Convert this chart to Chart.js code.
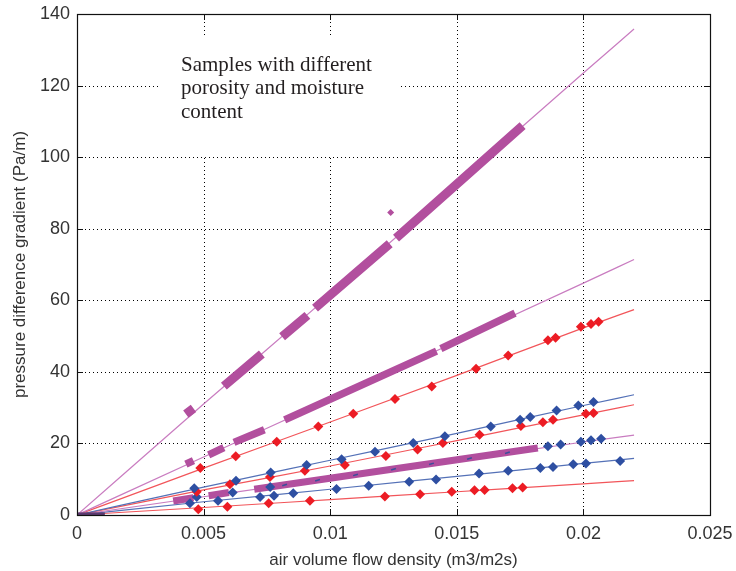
<!DOCTYPE html>
<html><head><meta charset="utf-8">
<script src="https://cdn.jsdelivr.net/npm/chart.js@4/dist/chart.umd.min.js"></script>
<style>html,body{margin:0;padding:0;background:#fff;}#wrap{width:736px;height:571px;position:relative;}</style>
</head><body><div id="wrap"><canvas id="c" width="736" height="571"></canvas></div>
<script>
// ---- axes ----
const xTicks = [0, 0.005, 0.01, 0.015, 0.02, 0.025];
const xTickLabels = ['0', '0.005', '0.01', '0.015', '0.02', '0.025'];
const yTicks = [0, 20, 40, 60, 80, 100, 120, 140];
const yTickLabels = ['0', '20', '40', '60', '80', '100', '120', '140'];
const xTitle = 'air volume flow density (m3/m2s)';
const yTitle = 'pressure difference gradient (Pa/m)';
const noteLines = ['Samples with different', 'porosity and moisture', 'content'];

// ---- fitted curves (read at these x positions) ----
const fitX = [0, 0.005, 0.01, 0.015, 0.02, 0.022];
const fitM1 = [0, 31, 61.5, 92.5, 123.5, 135.8];
const fitM2 = [0, 16.2, 32.3, 48.5, 64.8, 71.4];
const fitR2 = [0, 13.1, 26, 39, 52.3, 57.4];
const fitB1 = [0, 7.8, 15.3, 22.8, 30.6, 33.6];
const fitR3 = [0, 7.0, 13.7, 20.8, 28.0, 30.8];
const fitM3 = [0, 5.1, 10.2, 15.3, 20.4, 22.3];
const fitB2 = [0, 3.7, 7.2, 10.8, 14.4, 15.8];
const fitR4 = [0, 2.1, 4.3, 6.5, 8.7, 9.6];

// ---- dense measurement bands (segments: x0, y0, x1, y1) ----
const bandM1 = [[0.0043, 28.2, 0.0046, 29.8], [0.0058, 36.0, 0.0073, 45.0], [0.0081, 49.8, 0.0091, 55.8],
                [0.0094, 57.8, 0.01235, 75.8], [0.0126, 77.4, 0.0176, 108.8]];
const outlierM1X = [0.01239];
const outlierM1Y = [84.5];
const bandM2 = [[0.0043, 14.2, 0.0046, 15.2], [0.0052, 16.8, 0.0058, 18.8], [0.0062, 20.3, 0.0074, 23.8],
                [0.0082, 26.6, 0.0142, 45.8], [0.01437, 46.5, 0.0173, 56.4]];
const bandM3 = [[0.0038, 3.9, 0.0046, 4.8], [0.0052, 5.4, 0.006, 6.3], [0.007, 7.2, 0.0182, 18.7]];
const baseSeg = [[0, 0.3, 0.0011, 0.3]];

// ---- discrete measurements ----
const r2X = [0.00487, 0.00627, 0.00789, 0.00953, 0.01091, 0.01256, 0.01401, 0.01576, 0.01703, 0.0186, 0.0189, 0.0199, 0.0203, 0.0206];
const r2Y = [13.1, 16.4, 20.5, 24.7, 28.3, 32.4, 35.9, 40.9, 44.6, 48.8, 49.5, 52.6, 53.4, 54.0];
const b1X = [0.00463, 0.00628, 0.00765, 0.00907, 0.01045, 0.01177, 0.01328, 0.01453, 0.01634, 0.0175, 0.0179, 0.01894, 0.0198, 0.0204];
const b1Y = [7.5, 9.6, 11.9, 14.0, 15.6, 17.7, 20.1, 22.0, 24.7, 26.6, 27.4, 29.2, 30.6, 31.6];
const r3X = [0.00473, 0.00604, 0.00762, 0.009, 0.01058, 0.0122, 0.01345, 0.01445, 0.0159, 0.01753, 0.0184, 0.0188, 0.0201, 0.0204];
const r3Y = [6.5, 8.6, 10.6, 12.4, 14.0, 16.5, 18.3, 20.1, 22.4, 24.9, 25.9, 26.6, 28.3, 28.5];
const b2X = [0.00446, 0.00557, 0.00723, 0.00778, 0.00854, 0.01025, 0.01152, 0.01312, 0.01418, 0.01588, 0.01703, 0.0183, 0.0188, 0.0196, 0.0201, 0.02145];
const b2Y = [3.3, 4.0, 5.0, 5.4, 6.1, 7.3, 8.2, 9.3, 9.9, 11.6, 12.4, 13.1, 13.4, 14.2, 14.4, 15.1];
const r4X = [0.00479, 0.00594, 0.00757, 0.0092, 0.01216, 0.01355, 0.0148, 0.0157, 0.0161, 0.0172, 0.0176];
const r4Y = [1.6, 2.3, 3.3, 4.0, 5.2, 5.8, 6.5, 6.9, 7.0, 7.5, 7.7];
const b3X = [0.00473, 0.00615, 0.00763, 0.0186, 0.0191, 0.0199, 0.0203, 0.0207];
const b3Y = [5.0, 6.3, 7.8, 19.2, 19.7, 20.5, 20.9, 21.3];
// blue dashes visible on top of the lower magenta band
const b3dX = [0.0082, 0.0095, 0.011, 0.0125, 0.014, 0.0155, 0.017];
const b3dY = [8.4, 9.7, 11.2, 12.8, 14.3, 15.8, 17.4];

// ---- colours ----
const MAG = '#B24F9E', MAG_L = '#C97CC0';
const RED = '#EC1C24', RED_L = '#F2555A';
const BLU = '#2E4FA2', BLU_L = '#5471B7';

const pts = (xs, ys) => xs.map((x, i) => ({x: x, y: ys[i]}));
const segs = (arr) => {
  const out = [];
  arr.forEach((s, i) => {
    if (i > 0) out.push({x: s[0], y: null});
    out.push({x: s[0], y: s[1]});
    out.push({x: s[2], y: s[3]});
  });
  return out;
};
const markerDS = (xs, ys, col, r) => ({
  data: pts(xs, ys), showLine: false, pointStyle: 'rectRot', pointRadius: r || 5,
  backgroundColor: col, borderColor: col, borderWidth: 0, order: 0
});
const fitDS = (ys, col) => ({
  data: pts(fitX, ys), showLine: true, pointRadius: 0, borderColor: col, borderWidth: 1.2,
  tension: 0.3, cubicInterpolationMode: 'monotone', fill: false, order: 3
});
const bandDS = (arr, col, w) => ({
  data: segs(arr), showLine: true, spanGaps: false, pointRadius: 0, borderColor: col,
  borderWidth: w, borderCapStyle: 'butt', fill: false, order: 1
});

const datasets = [
  markerDS(outlierM1X, outlierM1Y, MAG, 3.5),
  markerDS(r2X, r2Y, RED),
  markerDS(b1X, b1Y, BLU),
  markerDS(r3X, r3Y, RED),
  markerDS(b2X, b2Y, BLU),
  markerDS(r4X, r4Y, RED),
  markerDS(b3X, b3Y, BLU),
  {data: pts(b3dX, b3dY), showLine: false, pointStyle: 'line', pointRadius: 2.5, pointRotation: -17,
   borderColor: '#3a4f9a', borderWidth: 1.5, order: 0},
  bandDS(bandM1, MAG, 9),
  bandDS(bandM2, MAG, 7.5),
  bandDS(bandM3, MAG, 7),
  bandDS(baseSeg, '#5b3a70', 3),
  fitDS(fitM1, MAG_L),
  fitDS(fitM2, MAG_L),
  fitDS(fitR2, RED_L),
  fitDS(fitB1, BLU_L),
  fitDS(fitR3, RED_L),
  fitDS(fitM3, MAG_L),
  fitDS(fitB2, BLU_L),
  fitDS(fitR4, RED_L)
];

const noteBox = {
  id: 'noteBox',
  beforeDatasetsDraw(chart) {
    const ctx = chart.ctx;
    const a = chart.chartArea;
    const xs = chart.scales.x, ys = chart.scales.y;
    ctx.save();
    // dotted grid
    ctx.strokeStyle = '#000';
    ctx.lineWidth = 1;
    ctx.setLineDash([1, 3]);
    ctx.beginPath();
    xTicks.slice(1, -1).forEach(v => {
      const p = Math.round(xs.getPixelForValue(v)) + 0.5;
      ctx.moveTo(p, a.top); ctx.lineTo(p, a.bottom);
    });
    yTicks.slice(1, -1).forEach(v => {
      const p = Math.round(ys.getPixelForValue(v)) + 0.5;
      ctx.moveTo(a.left, p); ctx.lineTo(a.right, p);
    });
    ctx.stroke();
    ctx.setLineDash([]);
    // note box
    ctx.fillStyle = '#ffffff';
    ctx.fillRect(158, 35, 242, 121);
    ctx.fillStyle = '#231f20';
    ctx.font = '21px "Liberation Serif", "Times New Roman", serif';
    ctx.textBaseline = 'alphabetic';
    ctx.textAlign = 'left';
    noteLines.forEach((t, i) => ctx.fillText(t, 181, 70.5 + i * 23.5));
    ctx.restore();
  },
  afterDraw(chart) {
    const ctx = chart.ctx;
    const a = chart.chartArea;
    const xs = chart.scales.x, ys = chart.scales.y;
    ctx.save();
    ctx.strokeStyle = '#111';
    ctx.lineWidth = 1;
    ctx.beginPath();
    xTicks.forEach(v => {
      const p = Math.round(xs.getPixelForValue(v)) + 0.5;
      ctx.moveTo(p, a.bottom); ctx.lineTo(p, a.bottom - 6);
      ctx.moveTo(p, a.top); ctx.lineTo(p, a.top + 6);
    });
    yTicks.forEach(v => {
      const p = Math.round(ys.getPixelForValue(v)) + 0.5;
      ctx.moveTo(a.left, p); ctx.lineTo(a.left + 6, p);
      ctx.moveTo(a.right, p); ctx.lineTo(a.right - 6, p);
    });
    ctx.stroke();
    ctx.lineWidth = 1.2;
    ctx.strokeRect(Math.round(a.left) + 0.5, Math.round(a.top) + 0.5, Math.round(a.right - a.left), Math.round(a.bottom - a.top));
    ctx.restore();
  }
};

const tickFont = {family: '"Liberation Sans", Arial, sans-serif', size: 18};
const titleFont = {family: '"Liberation Sans", Arial, sans-serif', size: 17};

new Chart(document.getElementById('c'), {
  type: 'scatter',
  data: {datasets: datasets},
  options: {
    responsive: false,
    animation: false,
    devicePixelRatio: 1,
    layout: {padding: {top: 14, right: 26, left: 0, bottom: 0}},
    plugins: {legend: {display: false}, tooltip: {enabled: false}},
    scales: {
      x: {
        type: 'linear', min: 0, max: 0.025,
        afterBuildTicks: s => { s.ticks = xTicks.map(v => ({value: v})); },
        afterFit: s => { s.height = 56; s.paddingLeft = 0; s.paddingRight = 0; },
        ticks: {font: tickFont, color: '#333', padding: 8, maxRotation: 0, autoSkip: false,
                callback: (v, i) => xTickLabels[i]},
        grid: {display: false, drawTicks: false},
        border: {display: false},
        title: {display: true, text: xTitle, font: titleFont, color: '#333', padding: {top: 2, bottom: 0}}
      },
      y: {
        type: 'linear', min: 0, max: 140,
        afterBuildTicks: s => { s.ticks = yTicks.map(v => ({value: v})); },
        afterFit: s => { s.width = 77; s.paddingTop = 0; s.paddingBottom = 0; },
        ticks: {font: tickFont, color: '#333', padding: 7, autoSkip: false,
                callback: (v, i) => yTickLabels[i]},
        grid: {display: false, drawTicks: false},
        border: {display: false},
        title: {display: true, text: yTitle, font: titleFont, color: '#333', padding: {top: 10, bottom: 0}}
      }
    }
  },
  plugins: [noteBox]
});
</script>
</body></html>
